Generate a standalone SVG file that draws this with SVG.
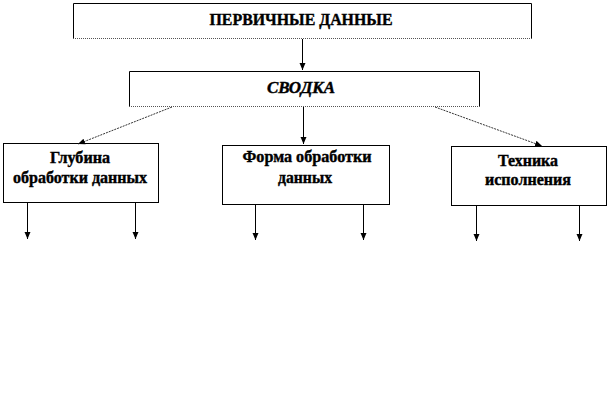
<svg xmlns="http://www.w3.org/2000/svg" width="609" height="413" viewBox="0 0 609 413">
<style>
.box{fill:#fff;stroke:#000;stroke-width:1}
.bot{stroke:#555;stroke-width:1;stroke-dasharray:1 1}
.t{font-family:'Liberation Serif','DejaVu Serif',serif;font-weight:bold;fill:#000;text-anchor:middle;font-size:16px;stroke:#000;stroke-width:0.4}
.c{stroke:#000;stroke-width:1;fill:none}
.d{stroke:#333;stroke-width:1;fill:none;stroke-dasharray:2 1}
</style>
<defs>
<marker id="ah" markerWidth="8" markerHeight="8" refX="7" refY="4" orient="auto" markerUnits="userSpaceOnUse">
<path d="M0,1 L7,4 L0,7 Z" fill="#000"/>
</marker>
</defs>
<rect width="609" height="413" fill="#fff"/>
<g id="n1">
<path class="box" d="M73.5,38.5 V3.5 H531.5 V38.5"/>
<line class="bot" x1="73" y1="38.5" x2="532" y2="38.5"/>
<text class="t" x="301" y="25" textLength="183" lengthAdjust="spacingAndGlyphs">ПЕРВИЧНЫЕ  ДАННЫЕ</text>
</g>
<g id="n2">
<path class="box" d="M129.5,106.5 V71.5 H479.5 V106.5"/>
<line class="bot" x1="129" y1="106.5" x2="480" y2="106.5"/>
<text class="t" x="301" y="93" font-style="italic" textLength="68" lengthAdjust="spacingAndGlyphs">СВОДКА</text>
</g>
<g id="n3">
<rect class="box" x="3.5" y="143.5" width="155" height="59"/>
<text class="t" x="80" y="163" textLength="60" lengthAdjust="spacingAndGlyphs">Глубина</text>
<text class="t" x="80" y="183" textLength="134" lengthAdjust="spacingAndGlyphs">обработки данных</text>
</g>
<g id="n4">
<rect class="box" x="222.5" y="145.5" width="167" height="59"/>
<text class="t" x="307" y="162" textLength="129" lengthAdjust="spacingAndGlyphs">Форма обработки</text>
<text class="t" x="305" y="183" textLength="54" lengthAdjust="spacingAndGlyphs">данных</text>
</g>
<g id="n5">
<rect class="box" x="451.5" y="146.5" width="155" height="59"/>
<text class="t" x="528" y="166" textLength="60" lengthAdjust="spacingAndGlyphs">Техника</text>
<text class="t" x="528" y="185" textLength="86" lengthAdjust="spacingAndGlyphs">исполнения</text>
</g>
<g id="connectors">
<line class="c" x1="302.5" y1="39" x2="302.5" y2="70" marker-end="url(#ah)"/>
<line class="d" x1="172" y1="107" x2="78" y2="144" marker-end="url(#ah)"/>
<line class="c" x1="303.5" y1="107" x2="303.5" y2="144" marker-end="url(#ah)"/>
<line class="d" x1="435" y1="107" x2="542" y2="146" marker-end="url(#ah)"/>
<line class="c" x1="27.5" y1="203" x2="27.5" y2="239" marker-end="url(#ah)"/>
<line class="c" x1="135.5" y1="203" x2="135.5" y2="239" marker-end="url(#ah)"/>
<line class="c" x1="255.5" y1="205" x2="255.5" y2="240" marker-end="url(#ah)"/>
<line class="c" x1="363.5" y1="205" x2="363.5" y2="240" marker-end="url(#ah)"/>
<line class="c" x1="476.5" y1="206" x2="476.5" y2="241" marker-end="url(#ah)"/>
<line class="c" x1="579.5" y1="206" x2="579.5" y2="241" marker-end="url(#ah)"/>
</g>
</svg>
